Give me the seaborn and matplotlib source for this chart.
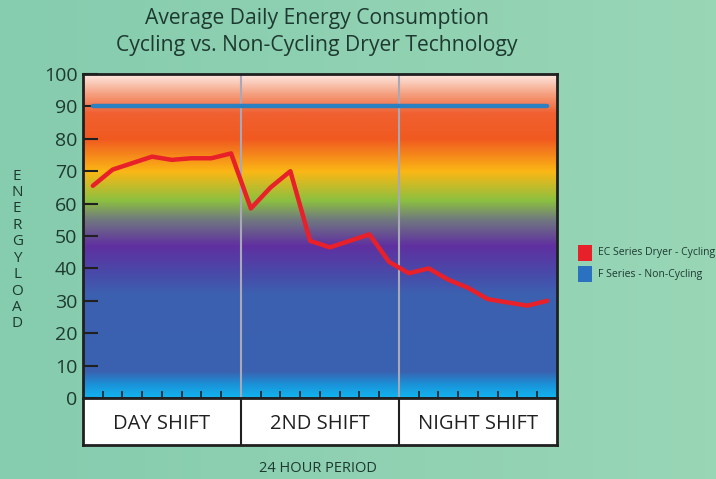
import numpy as np
import pandas as pd
import matplotlib
matplotlib.use("Agg")
import matplotlib.pyplot as plt
from matplotlib.colors import LinearSegmentedColormap
import seaborn as sns

# hourly samples (mid-hour) over a 24 hour period
hours = [h + 0.5 for h in range(24)]
cycling = [65.5, 70.5, 72.5, 74.5, 73.5, 74, 74, 75.5,
           58.5, 65, 70, 48.5, 46.5, 48.5, 50.5, 42,
           38.5, 40, 36.5, 34, 30.5, 29.5, 28.5, 30]
non_cycling = [90] * 24
shifts = ["DAY SHIFT", "2ND SHIFT", "NIGHT SHIFT"]
series_names = ["EC Series Dryer - Cycling", "F Series - Non-Cycling"]

df = pd.DataFrame({"hour": hours * 2,
                   "load": cycling + non_cycling,
                   "series": [series_names[0]] * 24 + [series_names[1]] * 24})

sns.set_theme(style="white")
plt.rcParams["font.family"] = ["Open Sans", "DejaVu Sans"]

txt = "#1e3a30"
bg = "#90d0b0"

fig = plt.figure(figsize=(7.16, 4.79), dpi=100, facecolor=bg)

# soft backdrop, slightly lighter toward the right
back = fig.add_axes([0, 0, 1, 1], zorder=-10)
back.imshow(np.linspace(0, 1, 64).reshape(1, -1),
            cmap=LinearSegmentedColormap.from_list("bg", ["#86ccae", "#98d6b6"]),
            aspect="auto", extent=[0, 1, 0, 1])
back.set_axis_off()

ax = fig.add_axes([0.1159, 0.1691, 0.662, 0.6764])

# rainbow background, bottom (0) to top (100)
stops = [(0.00, "#12b4f0"), (0.04, "#1a92d8"), (0.08, "#3a62b0"),
         (0.32, "#3c60b0"), (0.39, "#4a48a8"), (0.47, "#6030a0"),
         (0.55, "#707880"), (0.61, "#8cc040"), (0.70, "#fbb715"),
         (0.80, "#f05a20"), (0.88, "#f06030"), (0.94, "#f5a080"),
         (1.00, "#fde8e0")]
cmap = LinearSegmentedColormap.from_list("energy", stops)
grad = np.linspace(0, 1, 256).reshape(-1, 1)
ax.imshow(grad, cmap=cmap, origin="lower", extent=[0, 24, 0, 100],
          aspect="auto", zorder=0)

for x in [8, 16]:
    ax.axvline(x, color="#a8a8b8", lw=1.5, zorder=1)

sns.lineplot(data=df, x="hour", y="load", hue="series",
             palette=["#e8202a", "#2a80c0"], linewidth=3.2,
             legend=False, ax=ax, zorder=3)

ax.set_xlim(0, 24)
ax.set_ylim(0, 100)
ax.set_yticks(range(0, 101, 10))
ax.set_xticks(range(1, 24))
ax.set_xticklabels([])
ax.tick_params(axis="y", direction="in", length=11, width=1.5,
               color="#202020", labelsize=14, labelcolor=txt, pad=4, left=True)
ax.tick_params(axis="x", direction="in", length=5, width=1.2,
               color="#202020", bottom=True)
ax.set_xlabel("")
ax.set_ylabel("")
for s in ax.spines.values():
    s.set_color("#202020")
    s.set_linewidth(2)

# shift label strip
box = fig.add_axes([0.1159, 0.071, 0.662, 0.0981], facecolor="white")
box.set_xlim(0, 24)
box.set_ylim(0, 1)
box.set_xticks([])
box.set_yticks([])
for s in box.spines.values():
    s.set_color("#202020")
    s.set_linewidth(2)
for x in [8, 16]:
    box.axvline(x, color="#202020", lw=1.5)
for i, name in enumerate(shifts):
    box.text(i * 8 + 4, 0.45, name, ha="center", va="center",
             fontsize=14.5, color="#202020")

fig.text(0.444, 0.022, "24 HOUR PERIOD", ha="center", va="center",
         fontsize=10.5, color=txt)
fig.text(0.443, 0.962, "Average Daily Energy Consumption", ha="center",
         va="center", fontsize=15.2, color=txt)
fig.text(0.443, 0.905, "Cycling vs. Non-Cycling Dryer Technology", ha="center",
         va="center", fontsize=15.2, color=txt)
fig.text(0.024, 0.478, "\n".join("ENERGY LOAD".replace(" ", "")), ha="center",
         va="center", fontsize=11, color=txt, linespacing=1.13)

# legend
for j, (name, col) in enumerate(zip(series_names, ["#e8202a", "#2a72c0"])):
    yy = 1 - (253 + j * 21) / 479
    fig.patches.append(plt.Rectangle((578 / 716, yy - 0.017), 0.0195, 0.034,
                                     transform=fig.transFigure,
                                     facecolor=col, edgecolor="none"))
    fig.text(598 / 716, yy, name, ha="left", va="center",
             fontsize=7.5, color=txt)

fig.savefig("out.png", dpi=100, facecolor=bg)
